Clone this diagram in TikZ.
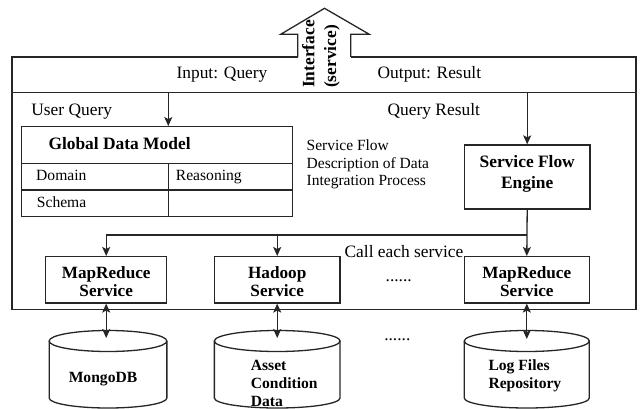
\documentclass[tikz,border=0pt]{standalone}
\usepackage{fontspec}
\setmainfont{Liberation Serif}
\usetikzlibrary{arrows.meta}

% font sizes used in the figure
\newcommand\txtL{\fontsize{17.4}{20}\selectfont}
\newcommand\txtS{\fontsize{15.6}{17.5}\selectfont}

% database cylinder: #1 = centre x, #2 = half width
\newcommand\dbcyl[2]{%
  \draw[cylline] (#1-#2,341) -- (#1-#2,398)
     arc[start angle=180,end angle=360,x radius=#2pt,y radius=10pt]
     -- (#1+#2,341);
  \draw[cylline] (#1,341) ellipse[x radius=#2pt,y radius=10.5pt];
}

\begin{document}
\begin{tikzpicture}[x=1pt,y=-1pt,
  every node/.style={inner sep=0pt,text=black},
  frameline/.style={draw=black!85,line width=1.3pt},
  cylline/.style={draw=black!85,line width=1.3pt},
  box/.style={draw=black!85,line width=1.3pt},
  arr/.style={draw=black!85,line width=1.3pt,-{Stealth[length=9pt,width=8pt,inset=2pt]}},
  darr/.style={draw=black!85,line width=1.3pt,
     {Stealth[length=9pt,width=8pt,inset=2pt]}-{Stealth[length=9pt,width=8pt,inset=2pt]}},
  plain/.style={font=\txtL},
  small/.style={font=\txtS},
  dbtxt/.style={font=\fontsize{15.6}{18.2}\selectfont\bfseries}
]
\useasboundingbox (0,0) rectangle (642,409);

% outer frame with the opening for the interface arrow
\draw[frameline] (297.7,57) -- (12,57) -- (12,309.3) -- (636,309.3) -- (636,57) -- (350.7,57);
\draw[frameline] (12,92.3) -- (636,92.3);
% interface arrow
\draw[frameline,line join=miter] (297.7,57) -- (297.7,34.3) -- (280.7,34.3) -- (324.5,8.3)
   -- (369.3,34.3) -- (350.7,34.3) -- (350.7,57);
\node[font=\fontsize{17.4}{21.7}\selectfont\bfseries,rotate=90,align=left] (iface)
   at (321,54) {Interface\\(service)};

% band labels
\node[plain,anchor=base] (inq) at (222,78.5) {Input: Query};
\node[plain,anchor=base] (outr) at (429.4,78.5) {Output: Result};
\node[plain,anchor=base] (uq) at (71.7,115.5) {User Query};
\node[plain,anchor=base] (qr) at (433.8,116) {Query Result};

\coordinate (inpt) at (168.3,92.3);
\coordinate (outpt) at (527.2,92.3);

% global data model table
\node[box,minimum width=270.6pt,minimum height=90pt] (gdm) at (157,171.7) {};
\draw[box] (21.7,163.3) -- (292.3,163.3);
\draw[box] (21.7,190) -- (292.3,190);
\draw[box] (168.3,163.3) -- (168.3,216.7);
\node[font=\txtL\bfseries,anchor=base west] (gdmt) at (48.3,149.5) {Global Data Model};
\node[small,anchor=base west] (dom) at (36,180.5) {Domain};
\node[small,anchor=base west] (rea) at (175.7,180.5) {Reasoning};
\node[small,anchor=base west] (sch) at (36.7,207) {Schema};

\node[font=\fontsize{15.5}{17.5}\selectfont,align=left,anchor=west] (sfd) at (306.5,164.3)
   {Service Flow\\Description of Data\\Integration Process};

% service flow engine
\node[box,minimum width=125.7pt,minimum height=64pt] (eng) at (527.2,177) {};
\node[font=\fontsize{17.4}{20.7}\selectfont\bfseries,align=center] (engt) at (527.2,173.8)
   {Service Flow\\Engine};

% services
\node[box,minimum width=121pt,minimum height=46.3pt] (ms1) at (106.2,279.8) {};
\node[box,minimum width=125.7pt,minimum height=46.3pt] (hd) at (277.2,279.8) {};
\node[box,minimum width=125pt,minimum height=46.3pt] (ms3) at (526.8,279.8) {};
\node[font=\fontsize{17.2}{18.7}\selectfont\bfseries,align=center] (ms1t) at (106.2,281.6) {MapReduce\\Service};
\node[font=\fontsize{17.2}{18.7}\selectfont\bfseries,align=center] (hdt) at (277.2,281.6) {Hadoop\\Service};
\node[font=\fontsize{17.2}{18.7}\selectfont\bfseries,align=center] (ms3t) at (526.8,281.6) {MapReduce\\Service};

\node[plain,anchor=base] (call) at (404,257.5) {Call each service};
\node[plain,anchor=base] (dots1) at (398.7,281) {......};
\node[plain,anchor=base] (dots2) at (397.3,340) {......};

% flow arrows
\draw[arr] (inpt) -- (gdm.north -| inpt);
\draw[arr] (outpt) -- (eng.north);
\coordinate (split) at (527.2,235);
\draw[arr] (eng.south) -- (ms3.north);
\draw[arr] (split) -| (ms1.north);
\draw[arr] (hd.north |- split) -- (hd.north);

% databases
\dbcyl{108}{58.85}
\dbcyl{277.2}{62.85}
\dbcyl{526.8}{62.5}
\coordinate (db1) at (106.2,338);
\coordinate (db2) at (277.2,338);
\coordinate (db3) at (526.8,339);
\draw[darr] (ms1.south) -- (db1);
\draw[darr] (hd.south) -- (db2);
\draw[darr] (ms3.south) -- (db3);

\node[dbtxt,anchor=base] (mdb) at (103,382.5) {MongoDB};
\node[dbtxt,align=left,anchor=west] (acd) at (250.7,383.2) {Asset\\Condition\\Data};
\node[dbtxt,align=left,anchor=west] (lfr) at (488.3,376) {Log Files\\Repository};
\end{tikzpicture}
\end{document}
